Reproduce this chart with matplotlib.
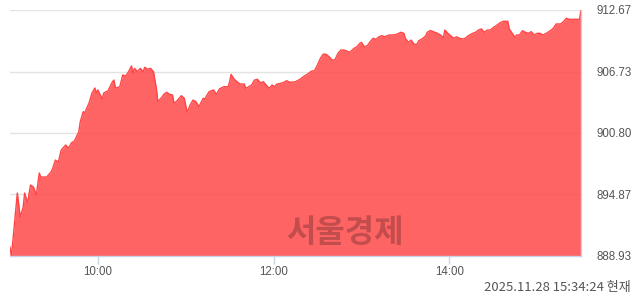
#!/usr/bin/env python3
"""Intraday index area chart (2025-11-28), Seoul Economic Daily style."""

import matplotlib
matplotlib.use("Agg")
import matplotlib.pyplot as plt
import matplotlib.dates as mdates
import pandas as pd

DATE = "2025-11-28"

times = [
    "09:00", "09:01", "09:05", "09:07", "09:09", "09:10", "09:12", "09:14", "09:16", "09:18",
    "09:20", "09:21", "09:25", "09:28", "09:29", "09:31", "09:33", "09:35", "09:38", "09:40",
    "09:42", "09:44", "09:47", "09:48", "09:50", "09:51", "09:54", "09:56", "09:58", "09:59",
    "10:00", "10:03", "10:04", "10:07", "10:10", "10:11", "10:12", "10:15", "10:17", "10:19",
    "10:21", "10:23", "10:24", "10:25", "10:27", "10:29", "10:31", "10:32", "10:34", "10:36",
    "10:38", "10:40", "10:41", "10:44", "10:45", "10:47", "10:49", "10:51", "10:52", "10:54",
    "10:57", "10:59", "11:01", "11:03", "11:05", "11:07", "11:09", "11:12", "11:13", "11:16",
    "11:19", "11:21", "11:23", "11:26", "11:29", "11:30", "11:31", "11:33", "11:35", "11:37",
    "11:40", "11:41", "11:43", "11:45", "11:47", "11:49", "11:51", "11:53", "11:55", "11:57",
    "11:59", "12:01", "12:02", "12:05", "12:07", "12:09", "12:11", "12:15", "12:18", "12:21",
    "12:23", "12:26", "12:28", "12:30", "12:32", "12:34", "12:36", "12:38", "12:40", "12:42",
    "12:44", "12:46", "12:48", "12:50", "12:52", "12:55", "12:57", "12:59", "13:00", "13:02",
    "13:04", "13:06", "13:08", "13:10", "13:12", "13:14", "13:16", "13:19", "13:22", "13:24",
    "13:27", "13:29", "13:30", "13:32", "13:34", "13:36", "13:38", "13:39", "13:42", "13:44",
    "13:45", "13:47", "13:49", "13:52", "13:54", "13:56", "13:57", "13:59", "14:01", "14:03",
    "14:05", "14:07", "14:09", "14:11", "14:13", "14:16", "14:18", "14:20", "14:22", "14:24",
    "14:26", "14:28", "14:30", "14:32", "14:35", "14:37", "14:40", "14:41", "14:43", "14:45",
    "14:46", "14:48", "14:50", "14:52", "14:54", "14:56", "14:58", "15:00", "15:02", "15:04",
    "15:07", "15:09", "15:11", "15:13", "15:16", "15:18", "15:20", "15:22", "15:25", "15:29",
    "15:30",
]

values = [
    889.80, 888.93, 895.01, 892.69, 893.66, 895.01, 894.04, 895.78, 895.59, 894.82,
    896.94, 896.55, 896.55, 897.04, 897.33, 898.19, 898.00, 899.16, 899.64, 899.35,
    899.86, 900.03, 900.92, 901.89, 902.86, 902.73, 903.69, 904.66, 905.14, 904.66,
    904.95, 904.08, 904.66, 904.88, 905.75, 905.91, 905.14, 905.27, 906.40, 906.30,
    906.72, 907.27, 906.56, 907.04, 906.72, 907.04, 906.72, 907.14, 906.95, 907.04,
    906.72, 905.05, 903.82, 904.30, 904.53, 904.73, 904.53, 904.47, 903.67, 903.89,
    904.40, 904.15, 902.80, 903.50, 903.98, 903.82, 903.34, 904.15, 904.08, 904.79,
    904.95, 904.53, 905.05, 905.27, 905.27, 905.75, 906.46, 906.01, 905.75, 905.53,
    905.53, 905.11, 905.27, 905.43, 905.91, 905.98, 905.65, 905.75, 905.43, 905.11,
    905.43, 905.27, 905.50, 905.60, 905.69, 905.85, 905.69, 905.75, 905.98, 906.30,
    906.46, 906.78, 906.81, 907.36, 908.01, 908.42, 908.39, 908.16, 907.84, 907.88,
    908.49, 908.81, 908.81, 908.71, 908.59, 908.97, 909.13, 909.46, 909.55, 909.13,
    909.22, 909.61, 909.94, 909.84, 910.09, 910.19, 910.09, 910.26, 910.26, 910.32,
    910.52, 910.42, 909.94, 909.55, 909.77, 909.36, 909.36, 909.68, 909.94, 910.19,
    910.52, 910.69, 910.58, 910.42, 910.26, 910.00, 910.74, 910.42, 910.19, 909.94,
    910.09, 909.94, 909.87, 909.94, 910.19, 910.42, 910.52, 910.74, 910.84, 910.52,
    910.74, 910.74, 910.96, 911.15, 911.46, 911.58, 911.58, 910.84, 910.42, 910.03,
    910.26, 910.26, 910.67, 910.52, 910.42, 910.58, 910.26, 910.42, 910.42, 910.26,
    910.48, 910.67, 910.90, 911.32, 911.32, 911.54, 911.87, 911.77, 911.77, 911.77,
    912.67,
]

y_ticks = [888.93, 894.87, 900.80, 906.73, 912.67]
x_hours = [10, 12, 14]
stamp = "2025.11.28 15:34:24 현재"
watermark = "서울경제"

AXIS_COLOR = "#c9d3e6"
TEXT_COLOR = "#555555"


def main() -> None:
    x = pd.to_datetime([f"{DATE} {t}" for t in times])
    t0 = pd.Timestamp(f"{DATE} 09:00")
    t1 = pd.Timestamp(f"{DATE} 15:30")

    fig = plt.figure(figsize=(6.4, 2.94), dpi=100)
    ax = fig.add_axes([10 / 640, 38 / 294, 571 / 640, 246 / 294])

    # grid under a slightly transparent fill so it shows through darker
    for v in y_ticks:
        ax.axhline(v, color="#e3e3e3", linewidth=1.0, zorder=1)

    ax.fill_between(x, values, y_ticks[0], color="#ff4949", alpha=0.85,
                    linewidth=0, zorder=2)
    ax.plot(x, values, color="#ff4545", linewidth=1.0, zorder=3)

    ax.set_xlim(t0, t1)
    ax.set_ylim(y_ticks[0], y_ticks[-1])

    for side in ("top", "left"):
        ax.spines[side].set_visible(False)
    for side in ("bottom", "right"):
        ax.spines[side].set_color(AXIS_COLOR)
        ax.spines[side].set_linewidth(1.0)
        ax.spines[side].set_zorder(4)

    ax.yaxis.tick_right()
    ax.set_yticks(y_ticks)
    ax.set_yticklabels([f"{v:.2f}" for v in y_ticks])
    ax.tick_params(axis="y", length=0, pad=11.5, labelsize=8.3,
                   labelcolor=TEXT_COLOR)
    for lab in ax.get_yticklabels():
        lab.set_fontfamily("Liberation Sans")

    ax.xaxis.set_major_locator(mdates.HourLocator(byhour=x_hours))
    ax.xaxis.set_major_formatter(mdates.DateFormatter("%H:%M"))
    ax.tick_params(axis="x", length=6, width=1.0, color=AXIS_COLOR, pad=1.5,
                   labelsize=8.3, labelcolor=TEXT_COLOR)
    for lab in ax.get_xticklabels():
        lab.set_fontfamily("Liberation Sans")

    ax.text(0.587, 0.095, watermark, transform=ax.transAxes, ha="center",
            va="center", fontsize=23, fontweight="bold",
            family=["Noto Sans CJK KR", "DejaVu Sans"],
            color="#7a3030", alpha=0.45, zorder=5)

    fig.text(631 / 640, 1 - 287 / 294, stamp, ha="right", va="center",
             fontsize=9.4, color=TEXT_COLOR,
             family=["Noto Sans CJK KR", "DejaVu Sans"])

    fig.savefig("out.png", dpi=100)
    plt.close(fig)


if __name__ == "__main__":
    main()
